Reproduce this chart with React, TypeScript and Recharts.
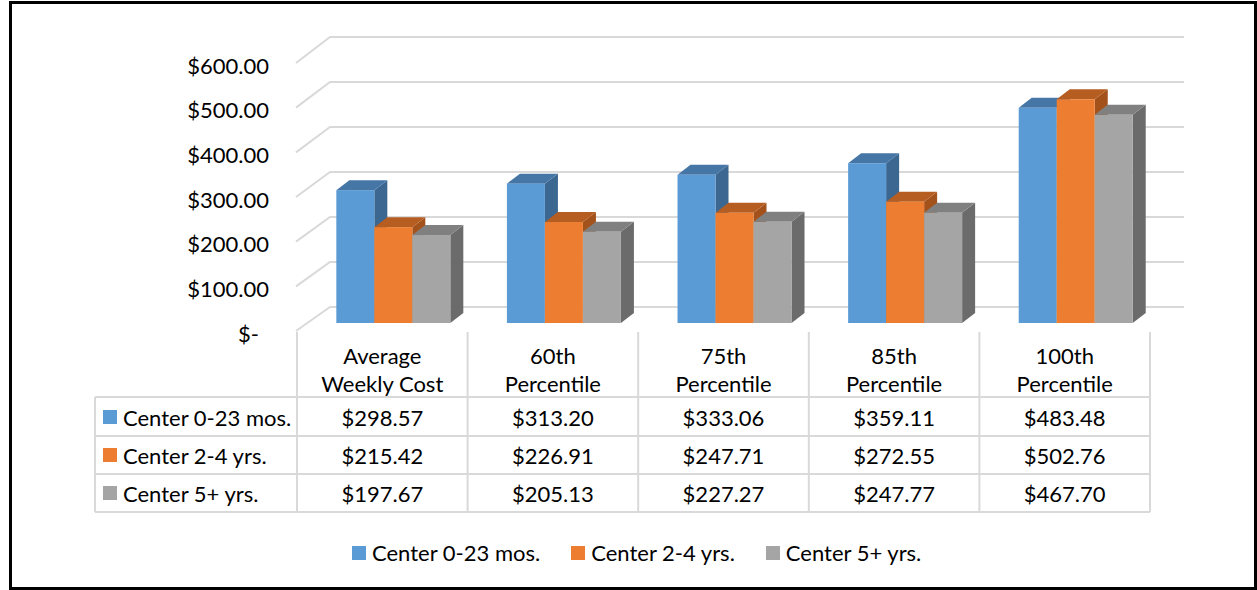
import React from 'react';
import { BarChart, Bar, XAxis, YAxis, CartesianGrid, Legend } from 'recharts';

// ── data ─────────────────────────────────────────────────────────────────────
const CATEGORY_LINES = [
  ['Average', 'Weekly Cost'],
  ['60th', 'Percentile'],
  ['75th', 'Percentile'],
  ['85th', 'Percentile'],
  ['100th', 'Percentile'],
];
const CATEGORIES = CATEGORY_LINES.map(l => l.join(' '));
const INFANT  = [298.57, 313.20, 333.06, 359.11, 483.48];
const TODDLER = [215.42, 226.91, 247.71, 272.55, 502.76];
const SCHOOL  = [197.67, 205.13, 227.27, 247.77, 467.70];
const SERIES_NAMES = ['Center 0-23 mos.', 'Center 2-4 yrs.', 'Center 5+ yrs.'];
const Y_TICKS = [0, 100, 200, 300, 400, 500, 600];

const SERIES = [
  { key: 'infant',  name: SERIES_NAMES[0], values: INFANT,  color: '#5B9BD5', top: '#4676A6', side: '#3B6791' },
  { key: 'toddler', name: SERIES_NAMES[1], values: TODDLER, color: '#ED7D31', top: '#B65D22', side: '#A3521C' },
  { key: 'school',  name: SERIES_NAMES[2], values: SCHOOL,  color: '#A5A5A5', top: '#808080', side: '#6B6B6B' },
];

const data = CATEGORIES.map((category, i) => ({
  category, infant: INFANT[i], toddler: TODDLER[i], school: SCHOOL[i],
}));

// ── geometry ─────────────────────────────────────────────────────────────────
const W = 1257, H = 590;
const PLOT_L = 308, PLOT_R = 1161, PLOT_T = 56, PLOT_B = 323;
const BAR_SCALE = (PLOT_B - PLOT_T) / 600;
const DX = 13, DY = 10;                       // bar depth
const FRONT_X = 296, FRONT_Y0 = 331, FRONT_SCALE = 268 / 600;
const BACK_X = 330, BACK_Y0 = 307, BACK_SCALE = 270 / 600, BACK_R = 1184;
const TABLE_SHIFT = 11;
const BAND = (PLOT_R - PLOT_L) / CATEGORIES.length;
const TABLE_L = 95, TABLE_R = PLOT_L - TABLE_SHIFT + BAND * CATEGORIES.length;
const HEAD_TOP = 332;
const ROW_LINES = [397, 436, 474, 512];
const HEAD_Y = [355, 383];
const ROW_Y = [417, 455, 493];

const FONT = "Lato, 'Open Sans', sans-serif";
const FS = 22;
const GRID = '#d9d9d9';

const money = (v: number) => `$${v.toFixed(2)}`;

const GridLine = (p: any) => {
  const v = (PLOT_B - p.y1) / BAR_SCALE;
  const fy = FRONT_Y0 - v * FRONT_SCALE;
  const by = BACK_Y0 - v * BACK_SCALE;
  return (
    <path key={p.key} d={`M${FRONT_X},${fy} L${BACK_X},${by} L${BACK_R},${by}`}
      fill="none" stroke={GRID} strokeWidth={2} />
  );
};

const YTick = ({ payload }: any) => {
  const v = payload.value as number;
  const fy = FRONT_Y0 - v * FRONT_SCALE;
  return (
    <text x={v === 0 ? 259 : 269} y={fy + 2} textAnchor="end" dominantBaseline="central"
      fontFamily={FONT} fontSize={FS} fill="#000">
      {v === 0 ? '$-' : money(v)}
    </text>
  );
};

const XTick = ({ x, index, payload }: any) => {
  const i = index ?? CATEGORIES.indexOf(payload.value);
  const cx = x - TABLE_SHIFT;
  const right = cx + BAND / 2;
  const left = cx - BAND / 2;
  return (
    <g>
      {i === 0 && <line x1={left} y1={HEAD_TOP} x2={left} y2={ROW_LINES[3]} stroke={GRID} strokeWidth={2} />}
      <line x1={right} y1={HEAD_TOP} x2={right} y2={ROW_LINES[3]} stroke={GRID} strokeWidth={2} />
      {CATEGORY_LINES[i].map((t, k) => (
        <text key={k} x={cx} y={HEAD_Y[k]} textAnchor="middle" dominantBaseline="central"
          fontFamily={FONT} fontSize={FS} fill="#000">{t}</text>
      ))}
      {SERIES.map((s, k) => (
        <text key={s.key} x={cx} y={ROW_Y[k]} textAnchor="middle" dominantBaseline="central"
          fontFamily={FONT} fontSize={FS} fill="#000">{money(s.values[i])}</text>
      ))}
    </g>
  );
};

const Box = (p: any) => {
  const { x, y, width: w, height: h, s } = p;
  if (h == null || w == null) return null;
  return (
    <g>
      <polygon points={`${x + w},${y} ${x + w + DX},${y - DY} ${x + w + DX},${y + h - DY} ${x + w},${y + h}`} fill={s.side} />
      <polygon points={`${x},${y} ${x + DX},${y - DY} ${x + w + DX},${y - DY} ${x + w},${y}`} fill={s.top} />
      <rect x={x} y={y} width={w} height={h} fill={s.color} />
    </g>
  );
};

const LegendBox = () => (
  <div style={{ display: 'flex', alignItems: 'center', fontFamily: FONT, fontSize: FS, color: '#000' }}>
    {SERIES.map(s => (
      <div key={s.key} style={{ display: 'flex', alignItems: 'center', marginRight: 31 }}>
        <span style={{ width: 14, height: 14, background: s.color, marginRight: 6, display: 'inline-block' }} />
        <span>{s.name}</span>
      </div>
    ))}
  </div>
);

export default function App() {
  return (
    <div style={{ position: 'absolute', left: 0, top: 0, width: W, height: H, background: '#fff' }}>
      <div style={{ position: 'absolute', left: 0, top: 0 }}>
        <BarChart width={W} height={H} data={data}
          margin={{ top: PLOT_T, left: PLOT_L - 60, right: W - PLOT_R, bottom: H - PLOT_B - 200 }}
          barCategoryGap="16.6%" barGap={0}>
          <CartesianGrid vertical={false} horizontal={GridLine} />
          <YAxis type="number" domain={[0, 600]} ticks={Y_TICKS} width={60}
            axisLine={false} tickLine={false} tick={YTick} interval={0} />
          <XAxis dataKey="category" height={200} axisLine={false} tickLine={false}
            tick={XTick} interval={0} />
          {SERIES.map(s => (
            <Bar key={s.key} dataKey={s.key} name={s.name} fill={s.color}
              isAnimationActive={false} shape={(p: any) => <Box {...p} s={s} />} />
          ))}
          <Legend layout="horizontal" verticalAlign="middle" align="center"
            wrapperStyle={{ position: 'absolute', left: 352, top: 539, width: 700, height: 26 }}
            content={LegendBox} />
        </BarChart>
      </div>
      <svg width={W} height={H} style={{ position: 'absolute', left: 0, top: 0, pointerEvents: 'none' }}>
        {ROW_LINES.map(y => (
          <line key={y} x1={TABLE_L} y1={y} x2={TABLE_R} y2={y} stroke={GRID} strokeWidth={2} />
        ))}
        <line x1={TABLE_L} y1={ROW_LINES[0]} x2={TABLE_L} y2={ROW_LINES[3]} stroke={GRID} strokeWidth={2} />
        {SERIES.map((s, k) => (
          <g key={s.key}>
            <rect x={103} y={ROW_Y[k] - 7} width={14} height={14} fill={s.color} />
            <text x={123} y={ROW_Y[k]} dominantBaseline="central" fontFamily={FONT} fontSize={FS} fill="#000">{s.name}</text>
          </g>
        ))}
      </svg>
      <div style={{ position: 'absolute', left: 9, top: 1, width: 1248, height: 589, boxSizing: 'border-box', border: '3px solid #000' }} />
    </div>
  );
}
